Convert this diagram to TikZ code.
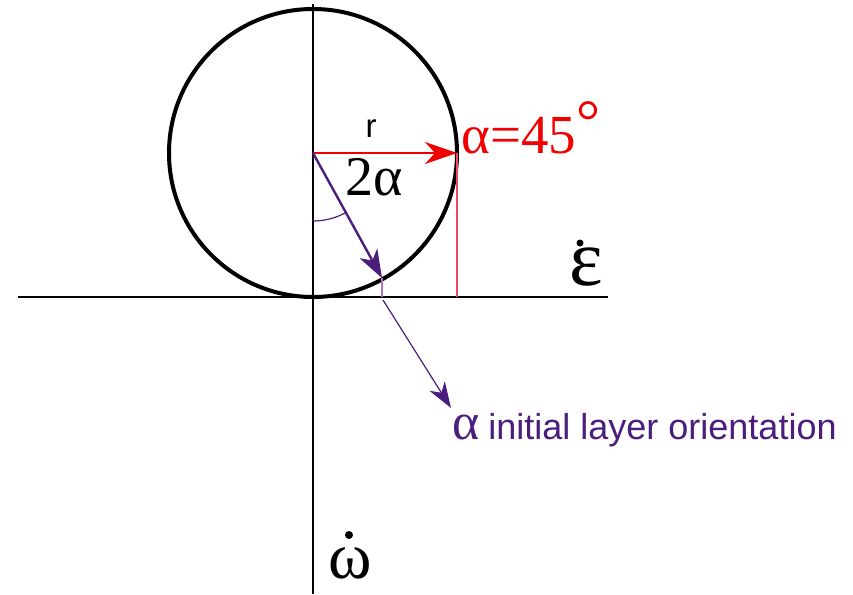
\documentclass[tikz,border=0pt]{standalone}
\usepackage{fontspec}
\setmainfont{Liberation Serif}
\newfontfamily\serf{Liberation Serif}
\newfontfamily\sff{Liberation Sans}
\usetikzlibrary{arrows.meta}
\definecolor{myred}{RGB}{240,0,0}
\definecolor{mypurple}{RGB}{75,30,125}
\definecolor{lightpurple}{RGB}{180,120,200}
\definecolor{pinkred}{RGB}{240,70,100}
\begin{document}
\begin{tikzpicture}[x=1pt,y=-1pt,
  lbl/.style={inner sep=0pt},
  axis/.style={line width=1.6pt, black},
  thinred/.style={pinkred, line width=1.2pt},
  thinpurple/.style={lightpurple, line width=1.2pt}]
\useasboundingbox (0,0) rectangle (853,594);
\coordinate (c) at (313,153);
\coordinate (axL) at (18,297);
\coordinate (axR) at (608,297);
\coordinate (axT) at (313,4);
\coordinate (axB) at (313,594);
\coordinate (rt) at (457,153);
\coordinate (rb) at (457,297);
\coordinate (p) at (382,278);
\coordinate (pb) at (382,297);
\coordinate (ls) at (383,300);
\coordinate (le) at (451,408);
\coordinate (arcs) at (313,221);
% axes
\draw[axis] (axL) -- (axR);
\draw[axis] (axT) -- (axB);
% circle
\draw[line width=4pt] (c) circle[radius=144];
% red radius and projection
\draw[thinred] (rt) -- (rb);
\draw[myred, line width=1.8pt, -{Stealth[length=32pt,width=22pt,inset=10pt]}] (c) -- (rt);
% purple
\draw[thinpurple] (p) -- (pb);
\draw[mypurple, line width=2.4pt, -{Stealth[length=28pt,width=20pt,inset=8pt]}] (c) -- (p);
\draw[mypurple, line width=1.2pt, -{Stealth[length=26pt,width=18pt,inset=8pt]}] (ls) -- (le);
\draw[mypurple, line width=1.2pt] (arcs) arc[start angle=90, end angle=61.1, radius=68];
% labels
\node[lbl, anchor=base] (r) at (371,137) {\sff\fontsize{33}{33}\selectfont r};
\node[lbl, anchor=base west] (twoa) at (345,195) {\serf\fontsize{56}{56}\selectfont 2α};
\node[lbl, anchor=base west, text=myred] (a45) at (461,153) {\serf\fontsize{55}{55}\selectfont α=45\raisebox{12pt}{\fontsize{60}{60}\selectfont °}};
\node[lbl, anchor=base] (eps) at (586,285) {\serf\fontsize{80}{80}\selectfont ε};
\fill (580,243) circle[radius=3.5];
\node[lbl, anchor=base] (om) at (350,578) {\serf\fontsize{66}{66}\selectfont ω};
\fill (349,535) circle[radius=4];
\node[lbl, anchor=base west, text=mypurple] (lab) at (452,439) {{\serf\fontsize{52}{52}\selectfont α}\hspace{9pt}{\sff\fontsize{36}{36}\selectfont initial layer orientation}};
\end{tikzpicture}
\end{document}
